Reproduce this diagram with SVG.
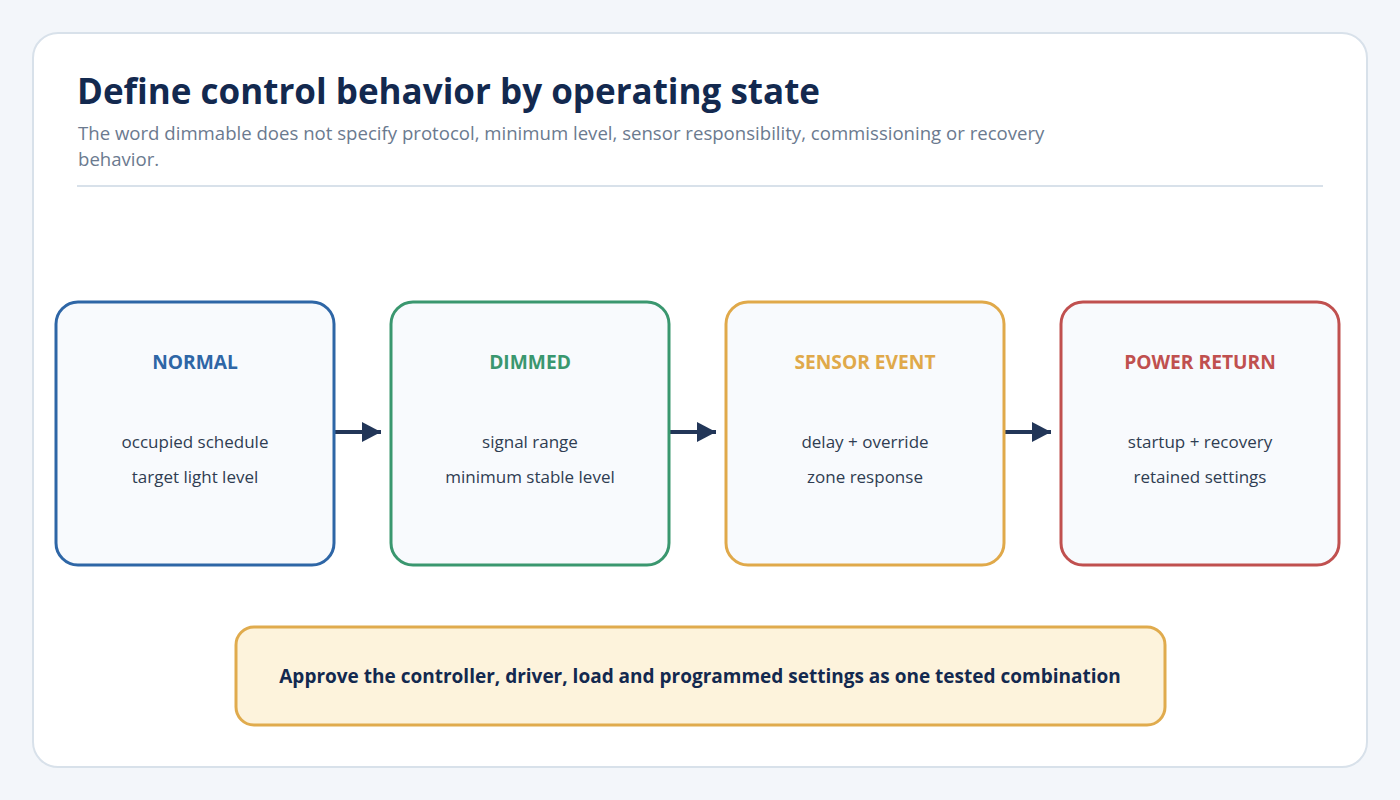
<svg xmlns="http://www.w3.org/2000/svg" width="1400" height="800" viewBox="0 0 1400 800">
<defs>
<style>
.t{font-family:"Open Sans","Liberation Sans",sans-serif}
.title{font-size:35px;font-weight:700;fill:#13294f}
.sub{font-size:18.6px;fill:#6b7a8f}
.box{fill:#f8fafd;stroke-width:3}
.head{font-size:19.2px;font-weight:700;text-anchor:middle}
.body{font-size:17px;fill:#2f3d52;text-anchor:middle}
.conn{stroke:#223658;stroke-width:4;fill:none}
</style>
<marker id="ah" markerWidth="20" markerHeight="22" refX="19" refY="11" orient="auto" markerUnits="userSpaceOnUse">
<path d="M0,1 L19,11 L0,21 Z" fill="#223658"/>
</marker>
</defs>
<rect width="1400" height="800" fill="#f3f6fa"/>
<rect x="33" y="33" width="1334" height="734" rx="25" fill="#ffffff" stroke="#d8e1ea" stroke-width="2"/>
<g id="header">
<text class="t title" x="77" y="104">Define control behavior by operating state</text>
<text class="t sub" x="78" y="140">The word dimmable does not specify protocol, minimum level, sensor responsibility, commissioning or recovery</text>
<text class="t sub" x="78" y="166">behavior.</text>
<line x1="77" y1="186" x2="1323" y2="186" stroke="#d8e1ea" stroke-width="2"/>
</g>
<g id="connectors">
<line class="conn" x1="334" y1="432" x2="381" y2="432" marker-end="url(#ah)"/>
<line class="conn" x1="669" y1="432" x2="716" y2="432" marker-end="url(#ah)"/>
<line class="conn" x1="1004" y1="432" x2="1051" y2="432" marker-end="url(#ah)"/>
</g>
<g id="normal">
<rect class="box" x="56" y="302" width="278" height="263" rx="22" stroke="#2e66a6"/>
<text class="t head" x="195" y="369" fill="#2e66a6">NORMAL</text>
<text class="t body" x="195" y="448">occupied schedule</text>
<text class="t body" x="195" y="483">target light level</text>
</g>
<g id="dimmed">
<rect class="box" x="391" y="302" width="278" height="263" rx="22" stroke="#3a976f"/>
<text class="t head" x="530" y="369" fill="#3a976f">DIMMED</text>
<text class="t body" x="530" y="448">signal range</text>
<text class="t body" x="530" y="483">minimum stable level</text>
</g>
<g id="sensor-event">
<rect class="box" x="726" y="302" width="278" height="263" rx="22" stroke="#e0a94a"/>
<text class="t head" x="865" y="369" fill="#e0a94a">SENSOR EVENT</text>
<text class="t body" x="865" y="448">delay + override</text>
<text class="t body" x="865" y="483">zone response</text>
</g>
<g id="power-return">
<rect class="box" x="1061" y="302" width="278" height="263" rx="22" stroke="#c0504f"/>
<text class="t head" x="1200" y="369" fill="#c0504f">POWER RETURN</text>
<text class="t body" x="1200" y="448">startup + recovery</text>
<text class="t body" x="1200" y="483">retained settings</text>
</g>
<g id="approval">
<rect x="236" y="627" width="929" height="98" rx="18" fill="#fdf3dc" stroke="#e0ab4d" stroke-width="3"/>
<text class="t" x="700" y="683" font-size="19" font-weight="700" fill="#13294f" text-anchor="middle">Approve the controller, driver, load and programmed settings as one tested combination</text>
</g>
</svg>
